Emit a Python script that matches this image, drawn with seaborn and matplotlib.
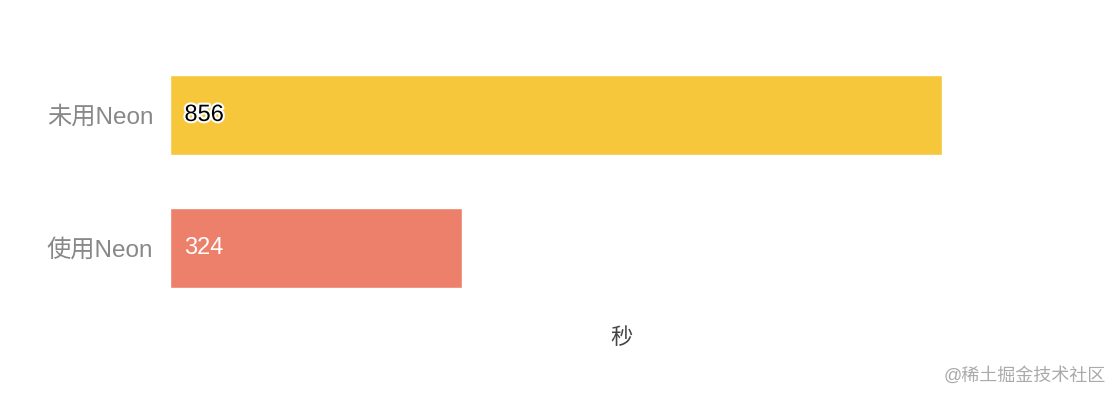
import matplotlib
matplotlib.use('Agg')
import matplotlib.pyplot as plt
import matplotlib.patheffects as pe
import seaborn as sns
import pandas as pd

# Dados
categorias = ['未用Neon', '使用Neon']
tempos = [856, 324]
cores = ['#F7C73B', '#EC806A']
cores_texto = ['black', 'white']

sns.set_style('white')
plt.rcParams['font.family'] = ['Liberation Sans', 'Noto Sans CJK SC', 'DejaVu Sans']

df = pd.DataFrame({'categoria': categorias, 'tempo': tempos})

fig = plt.figure(figsize=(11.2, 4), dpi=100)
ax = fig.add_axes([0.1518, 0.2138, 0.8054, 0.665])

sns.barplot(data=df, x='tempo', y='categoria', hue='categoria', palette=cores,
            orient='h', width=0.6, legend=False, ax=ax, saturation=1)

ax.set_xlim(0, 1000)
ax.set_ylim(1.5, -0.5)
ax.set_xticks([])
ax.set_ylabel('')
ax.set_xlabel('秒', fontsize=16, color='#444444', labelpad=10)
ax.tick_params(axis='y', length=0, pad=12, labelsize=17.5, labelcolor='#888888')
for lbl in ax.get_yticklabels():
    lbl.set_va('center_baseline')
for s in ax.spines.values():
    s.set_visible(False)

# Rótulos dos valores dentro das barras
for i, (v, c) in enumerate(zip(tempos, cores_texto)):
    t = ax.text(16, i, str(v), va='center', ha='left', fontsize=17, color=c)
    if c == 'black':
        t.set_path_effects([pe.withStroke(linewidth=3, foreground='white')])

# Marca d'água
fig.text(0.987, 0.06, '@稀土掘金技术社区', ha='right', va='center',
         fontsize=13, color='#AAAAAA')

fig.savefig('out.png', dpi=100)
